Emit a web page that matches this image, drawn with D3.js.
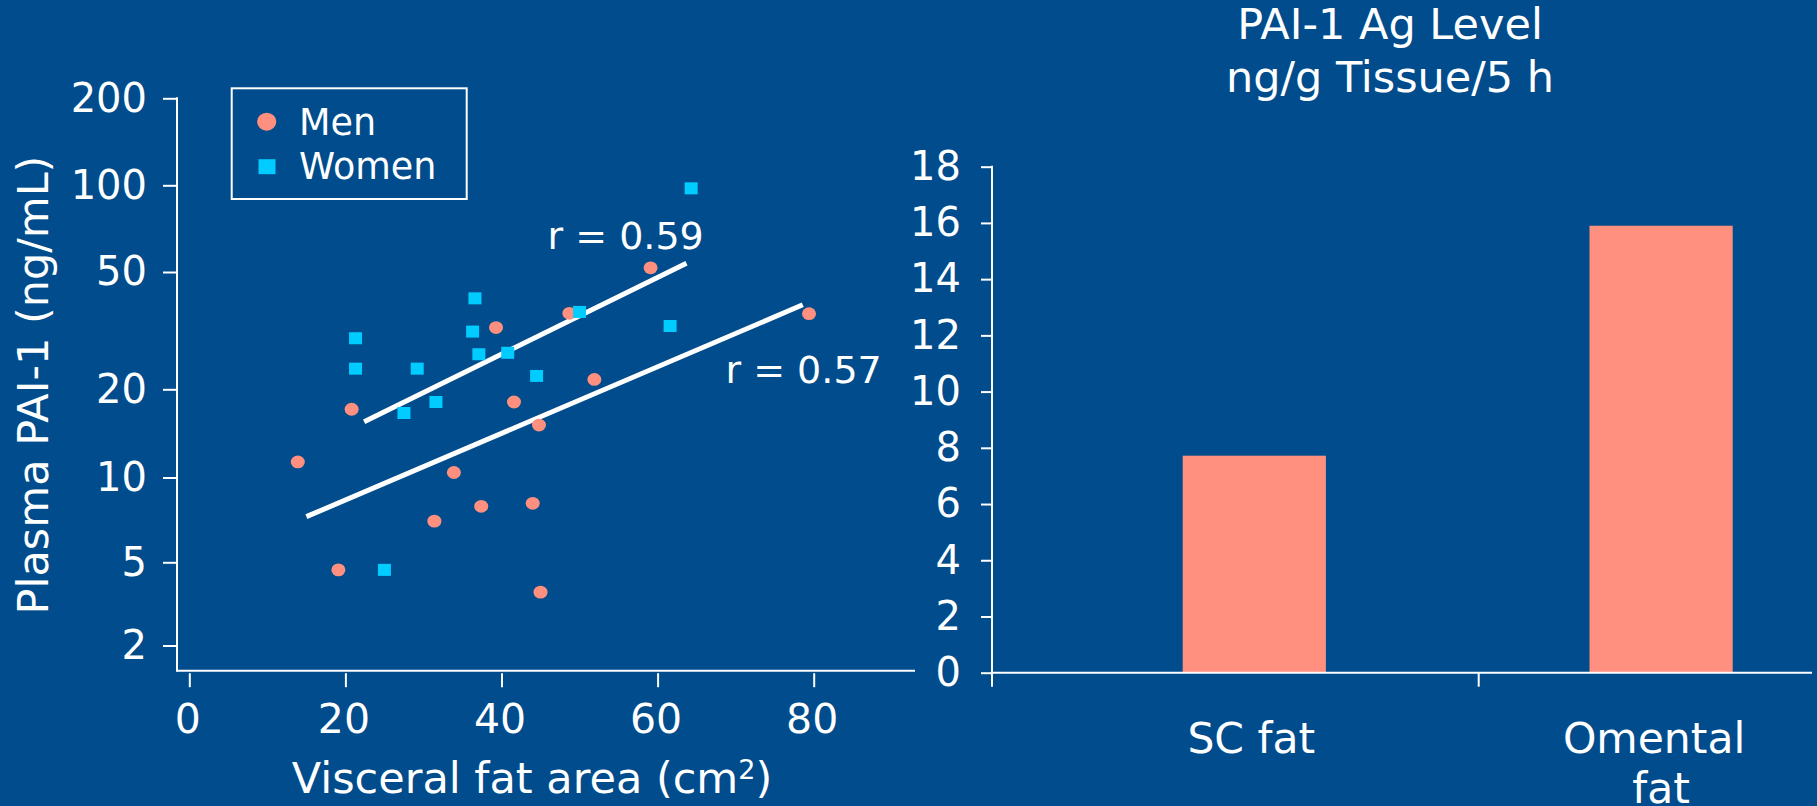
<!DOCTYPE html>
<html><head><meta charset="utf-8">
<script src="https://cdn.jsdelivr.net/npm/d3@7"></script>
<style>
html,body{margin:0;padding:0;background:#004C8C;overflow:hidden}
svg{display:block}
text{font-family:"DejaVu Sans",Verdana,sans-serif;fill:#fff}
</style></head><body>
<svg id="chart" width="1817" height="806"></svg>
<script>
// ---------- data ----------
const menArea   = [59.1, 48.7, 39.3, 51.9, 41.6, 20.8, 44.8, 13.9, 33.9, 37.4, 44.0, 31.4, 19.1, 45.0, 79.4];
const menPAI    = [51.7, 36.2, 32.4, 21.6, 18.1, 17.1, 15.1, 11.3, 10.4, 7.9, 8.1, 7.0, 4.6, 3.6, 36.1];
const womenArea = [36.6, 50.0, 61.6, 36.3, 21.3, 37.1, 40.8, 21.3, 29.2, 44.5, 31.6, 27.5, 25.0, 64.3];
const womenPAI  = [40.7, 36.6, 32.8, 31.4, 29.8, 26.3, 26.6, 23.5, 23.5, 22.2, 18.1, 16.6, 4.6, 97.6];
const fitWomenX = [22.4, 63.7];
const fitWomenY = [15.5, 53.6];
const fitMenX   = [15.0, 78.6];
const fitMenY   = [7.26, 38.7];
const rLabels   = ["r = 0.59", "r = 0.57"];
const rLabelX   = [45.9, 68.7];
const rLabelY   = [59.9, 21.0];
const scatterXTicks = [0, 20, 40, 60, 80];
const scatterYTicks = [2, 5, 10, 20, 50, 100, 200];
const legendLabels  = ["Men", "Women"];

const tissueCategories = ["SC fat", "Omental fat"];
const tissuePAI        = [7.72, 15.9];
const barYTicks        = [0, 2, 4, 6, 8, 10, 12, 14, 16, 18];
const barTitle         = ["PAI-1 Ag Level", "ng/g Tissue/5 h"];

// ---------- style ----------
const SALMON = "#FF8F7E", CYAN = "#00CCFF", WHITE = "#ffffff";
const svg = d3.select("#chart");

// ---------- scatter (left) ----------
const x = d3.scaleLinear().domain([0, 80]).range([189.3, 813.7]);
const y = d3.scaleLog().domain(scatterYTicks).range([645.5, 562.3, 477.5, 389.3, 272, 185.3, 98.3]);
const axX0 = 177, axBottom = 670.7, axRight = 915;

const gS = svg.append("g");
gS.append("line").attr("x1", axX0).attr("x2", axX0).attr("y1", y(200) - 1).attr("y2", axBottom + 1)
  .attr("stroke", WHITE).attr("stroke-width", 2);
gS.append("line").attr("x1", axX0).attr("x2", axRight).attr("y1", axBottom).attr("y2", axBottom)
  .attr("stroke", WHITE).attr("stroke-width", 2);

const yAx = gS.append("g").attr("transform", `translate(${axX0},0)`)
  .call(d3.axisLeft(y).tickValues(scatterYTicks).tickFormat(d3.format("d")).tickSize(14).tickPadding(16));
yAx.select(".domain").remove();
yAx.selectAll("line").attr("stroke", WHITE).attr("stroke-width", 2);
yAx.selectAll("text").attr("font-size", 40).attr("fill", WHITE).attr("font-family", '"DejaVu Sans",sans-serif');

const xAx = gS.append("g").attr("transform", `translate(0,${axBottom + 2.5})`)
  .call(d3.axisBottom(x).tickValues(scatterXTicks).tickSize(14).tickPadding(17));
xAx.select(".domain").remove();
xAx.selectAll("line").attr("stroke", WHITE).attr("stroke-width", 2);
xAx.selectAll("text").attr("font-size", 41).attr("fill", WHITE).attr("dx", -2).attr("font-family", '"DejaVu Sans",sans-serif');

const xt = gS.append("text").attr("x", 532).attr("y", 792.5).attr("text-anchor", "middle").attr("font-size", 43);
xt.append("tspan").text("Visceral fat area (cm");
xt.append("tspan").attr("font-size", 27).attr("dy", -14).text("2");
xt.append("tspan").attr("dy", 14).text(")");

gS.append("text").attr("transform", "translate(48,385) rotate(-90)").attr("text-anchor", "middle")
  .attr("font-size", 43).text("Plasma PAI-1 (ng/mL)");

// regression lines
const fits = [[fitWomenX, fitWomenY], [fitMenX, fitMenY]];
gS.selectAll("line.fit").data(fits).join("line").attr("class", "fit")
  .attr("x1", d => x(d[0][0])).attr("y1", d => y(d[1][0]))
  .attr("x2", d => x(d[0][1])).attr("y2", d => y(d[1][1]))
  .attr("stroke", WHITE).attr("stroke-width", 5);

// points
const men = menArea.map((a, i) => ({a, p: menPAI[i]}));
const women = womenArea.map((a, i) => ({a, p: womenPAI[i]}));
gS.selectAll("ellipse.men").data(men).join("ellipse").attr("class", "men")
  .attr("cx", d => x(d.a)).attr("cy", d => y(d.p)).attr("rx", 7).attr("ry", 6.4).attr("fill", SALMON);
gS.selectAll("rect.women").data(women).join("rect").attr("class", "women")
  .attr("x", d => x(d.a) - 6.5).attr("y", d => y(d.p) - 6).attr("width", 13).attr("height", 12).attr("fill", CYAN);

// r labels
gS.selectAll("text.r").data(rLabels).join("text").attr("class", "r")
  .attr("x", (d, i) => x(rLabelX[i])).attr("y", (d, i) => y(rLabelY[i]))
  .attr("font-size", 38).text(d => d);

// legend
const lg = gS.append("g");
lg.append("rect").attr("x", 231.7).attr("y", 88.3).attr("width", 235).attr("height", 110.7)
  .attr("fill", "none").attr("stroke", WHITE).attr("stroke-width", 2);
lg.append("ellipse").attr("cx", 266.7).attr("cy", 121.7).attr("rx", 9.6).attr("ry", 9).attr("fill", SALMON);
lg.append("rect").attr("x", 258.5).attr("y", 159.2).attr("width", 17).attr("height", 15).attr("fill", CYAN);
lg.selectAll("text").data(legendLabels).join("text")
  .attr("x", 299).attr("y", (d, i) => 135 + i * 44.3).attr("font-size", 36.5).text(d => d);

// ---------- bar chart (right) ----------
const yb = d3.scaleLinear().domain([0, 18]).range([672.7, 166.7]);
const xb = d3.scaleBand().domain(tissueCategories).range([1182.7, 1732.7]).paddingInner(0.648).paddingOuter(0);
const bX0 = 992, bRight = 1812, sepX = 1478.7;
const gB = svg.append("g");

gB.selectAll("rect.bar").data(tissueCategories).join("rect").attr("class", "bar")
  .attr("x", d => xb(d)).attr("width", xb.bandwidth())
  .attr("y", (d, i) => yb(tissuePAI[i])).attr("height", (d, i) => yb(0) - yb(tissuePAI[i]))
  .attr("fill", SALMON);

gB.append("line").attr("x1", bX0).attr("x2", bX0).attr("y1", yb(18) - 1).attr("y2", yb(0) + 14)
  .attr("stroke", WHITE).attr("stroke-width", 2);
gB.append("line").attr("x1", bX0).attr("x2", bRight).attr("y1", yb(0)).attr("y2", yb(0))
  .attr("stroke", WHITE).attr("stroke-width", 2);
gB.append("line").attr("x1", sepX).attr("x2", sepX).attr("y1", yb(0)).attr("y2", yb(0) + 14)
  .attr("stroke", WHITE).attr("stroke-width", 2);

const ybAx = gB.append("g").attr("transform", `translate(${bX0},0)`)
  .call(d3.axisLeft(yb).tickValues(barYTicks).tickSize(11).tickPadding(20));
ybAx.select(".domain").remove();
ybAx.selectAll("line").attr("stroke", WHITE).attr("stroke-width", 2);
ybAx.selectAll("text").attr("font-size", 40).attr("fill", WHITE).attr("font-family", '"DejaVu Sans",sans-serif');

// category labels
gB.selectAll("text.cat").data(tissueCategories).join("text").attr("class", "cat")
  .attr("text-anchor", "middle").attr("font-size", 42.5)
  .each(function(d) {
    const t = d3.select(this);
    const cx = xb(d) + xb.bandwidth() / 2;
    const words = d === "Omental fat" ? ["Omental", "fat"] : [d];
    words.forEach((w, k) => t.append("tspan")
      .attr("x", cx - (words.length > 1 && k === 0 ? 7 : 0) - (words.length === 1 ? 3 : 0))
      .attr("y", 753 + k * 50).text(w));
  });

// title
gB.selectAll("text.title").data(barTitle).join("text").attr("class", "title")
  .attr("x", 1390).attr("y", (d, i) => 39.3 + i * 52.4).attr("text-anchor", "middle")
  .attr("font-size", 43).text(d => d);
</script>
</body></html>
